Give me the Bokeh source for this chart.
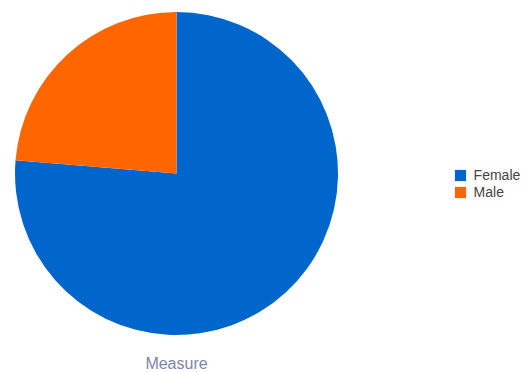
import numpy as np
from bokeh.plotting import figure
from bokeh.models import ColumnDataSource, Range1d, Legend, LegendItem, Label
from bokeh.embed import file_html
from bokeh.resources import INLINE

categories = ["Female", "Male"]
values = [76.3, 23.7]
colors = ["#0066CC", "#FF6600"]
axis_title = "Measure"

W, H = 524, 372
p = figure(width=W, height=H, output_backend="svg", toolbar_location=None,
           x_range=Range1d(0, W), y_range=Range1d(0, H),
           x_axis_location=None, y_axis_location=None, min_border=0)
p.grid.visible = False
p.outline_line_color = None
p.background_fill_color = "white"

frac = np.array(values) / sum(values)
cum = np.concatenate([[0], np.cumsum(frac)])
# clockwise from 12 o'clock
start = np.pi / 2 - cum[1:] * 2 * np.pi
end = np.pi / 2 - cum[:-1] * 2 * np.pi

cx, cy, r = 176, 199, 161.5
renderers = []
for i, c in enumerate(categories):
    src = ColumnDataSource(dict(x=[cx], y=[cy], s=[start[i]], e=[end[i]]))
    rr = p.wedge(x="x", y="y", radius=r, start_angle="s", end_angle="e",
                 source=src, fill_color=colors[i], line_color=None)
    renderers.append(rr)

legend = Legend(items=[LegendItem(label=c, renderers=[renderers[i]]) for i, c in enumerate(categories)],
                location=(452.6, 172.4), orientation="vertical",
                glyph_width=14, glyph_height=14, label_height=14, spacing=1,
                padding=0, margin=0, label_standoff=7,
                label_text_font="Liberation Sans", label_text_font_size="14px",
                label_text_color="#444444", border_line_color=None,
                background_fill_alpha=0)
p.add_layout(legend)

p.add_layout(Label(x=cx, y=17.5, text=axis_title, text_align="center", text_baseline="top",
                   text_font="Liberation Sans", text_font_size="16px", text_color="#7d85a8"))

open("out.html", "w").write(file_html(p, INLINE))
